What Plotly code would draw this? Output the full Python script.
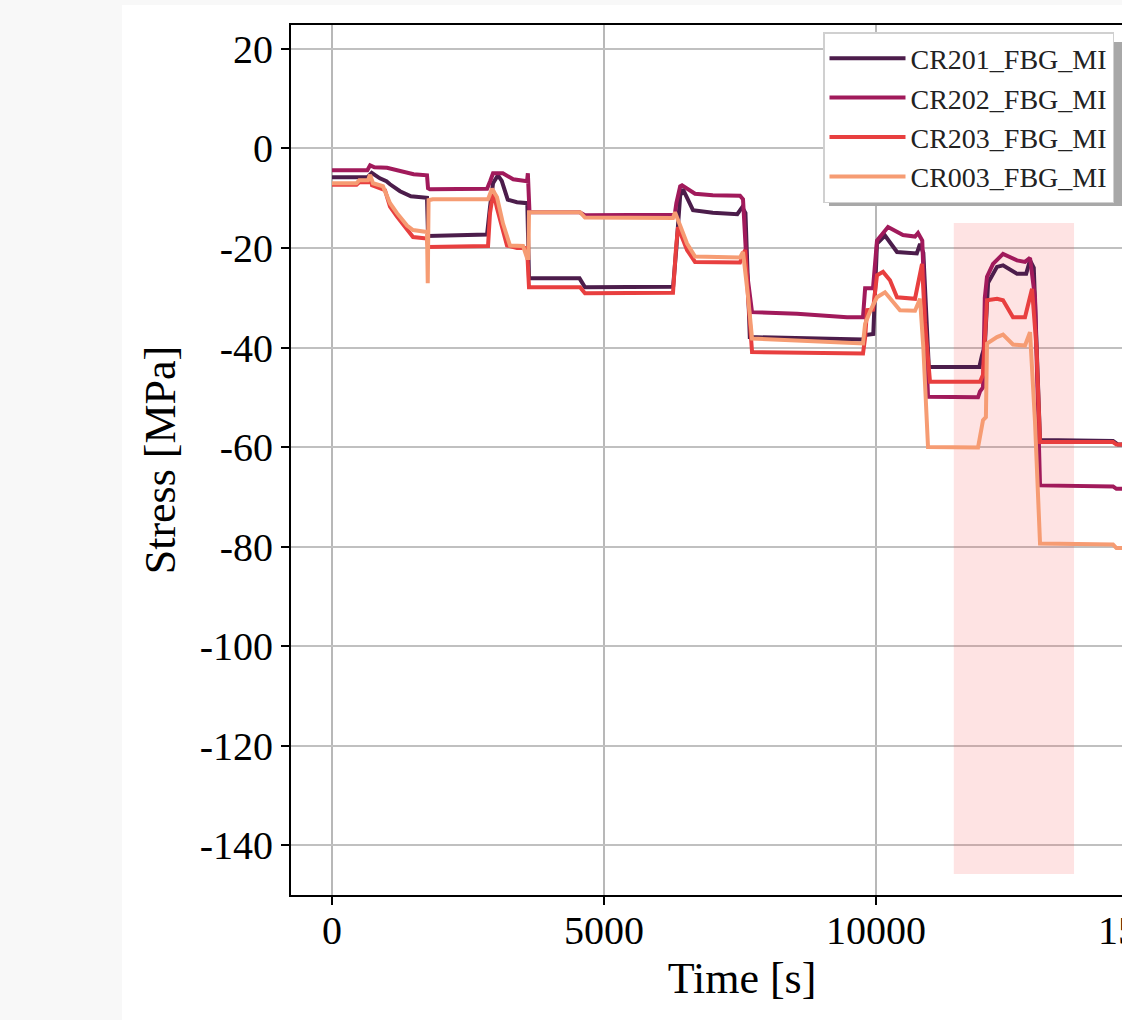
import plotly.graph_objects as go

# ---------------- data ----------------
series_names = ["CR201_FBG_MI", "CR202_FBG_MI", "CR203_FBG_MI", "CR003_FBG_MI"]
series_colors = ["#4c1d4b", "#a11a5b", "#e83f3f", "#f69c73"]

cr201_t = [0, 650, 730, 880, 1000, 1066, 1250, 1450, 1746, 1765, 2850, 2880, 2904, 2960, 3050, 3120, 3230, 3400,
           3590, 3621, 4550, 4650, 6270, 6330, 6400, 6450, 6636, 7000, 7450, 7540, 7600, 7680, 9450, 9760, 9800,
           9950, 10018, 10165, 10386, 10750, 10809, 10870, 10970, 11900, 11950, 12000, 12060, 12224, 12335, 12592,
           12760, 12831, 12900, 13015, 14357, 14450, 15080]
cr201_v = [-5.8, -5.8, -4.9, -6.0, -6.6, -7.2, -8.6, -9.6, -9.9, -17.6, -17.3, -15.0, -11.8, -7.0, -5.4, -6.5, -10.3,
           -10.8, -11.0, -26.1, -26.1, -27.9, -27.8, -20.0, -9.5, -8.2, -12.4, -12.9, -13.2, -11.8, -13.0, -37.9,
           -38.3, -38.4, -37.5, -37.3, -19.1, -17.5, -20.8, -21.1, -19.2, -21.0, -43.9, -43.9, -41.5, -39.7, -27.0,
           -23.8, -23.5, -25.2, -25.2, -22.5, -24.0, -58.6, -58.8, -59.5, -59.5]

cr202_t = [0, 650, 700, 780, 1011, 1250, 1500, 1746, 1765, 1800, 2850, 2910, 2960, 3140, 3330, 3585, 3600, 3630,
           4550, 4650, 6300, 6330, 6400, 6434, 6673, 7000, 7500, 7555, 7629, 7721, 8548, 9467, 9761, 9800, 9945,
           10018, 10221, 10496, 10717, 10772, 10850, 10956, 11875, 11912, 11967, 12000, 12040, 12151, 12335, 12592,
           12739, 12831, 12923, 13015, 14357, 14420, 15080]
cr202_v = [-4.4, -4.4, -3.4, -3.8, -3.9, -4.6, -5.2, -5.4, -8.0, -8.2, -8.1, -6.5, -5.0, -5.0, -6.2, -6.6, -5.0,
           -12.8, -12.8, -13.4, -13.3, -11.0, -7.6, -7.4, -9.1, -9.4, -9.5, -10.2, -25.0, -32.9, -33.2, -33.9, -33.9,
           -28.1, -28.1, -18.5, -15.8, -17.4, -17.7, -17.0, -18.5, -49.9, -50.0, -48.8, -48.0, -30.0, -25.8, -23.2,
           -21.2, -22.5, -22.8, -22.0, -30.0, -67.7, -67.9, -68.4, -68.4]

cr203_t = [0, 450, 500, 662, 699, 735, 974, 1066, 1195, 1379, 1489, 1746, 1765, 2868, 2904, 2941, 2960, 3033, 3217,
           3401, 3585, 3621, 4559, 4650, 6268, 6324, 6360, 6526, 6673, 7500, 7592, 7650, 7721, 9761, 9800, 9835,
           9945, 10018, 10129, 10257, 10386, 10717, 10846, 10900, 10993, 11912, 11967, 12040, 12224, 12335, 12518,
           12739, 12868, 12950, 13015, 14357, 14420, 15080]
cr203_v = [-7.3, -7.3, -6.8, -6.8, -5.4, -7.4, -8.4, -11.7, -13.7, -16.4, -17.8, -18.1, -19.8, -19.6, -13.0, -10.4,
           -8.4, -12.0, -19.5, -20.0, -20.0, -27.9, -27.9, -29.1, -29.0, -20.0, -15.8, -20.4, -22.8, -22.9, -20.4,
           -30.0, -40.9, -41.2, -38.0, -32.5, -32.4, -25.5, -24.8, -26.5, -29.9, -30.2, -23.2, -35.0, -46.9, -46.9,
           -45.5, -30.5, -30.2, -30.5, -33.9, -33.9, -28.2, -40.0, -59.0, -59.0, -59.5, -59.5]

cr003_t = [0, 450, 500, 662, 699, 754, 936, 1066, 1195, 1379, 1489, 1746, 1760, 1775, 1850, 2868, 2941, 3033, 3143,
           3272, 3511, 3585, 3610, 3621, 4559, 4650, 6268, 6305, 6526, 6673, 7500, 7555, 7650, 7721, 9761, 9800,
           9900, 10018, 10165, 10441, 10717, 10809, 10870, 10956, 11875, 11967, 12020, 12040, 12224, 12335, 12518,
           12739, 12831, 12923, 13015, 14357, 14420, 15080]
cr003_v = [-7.0, -7.0, -6.4, -6.4, -5.3, -7.0, -7.6, -11.0, -13.0, -15.5, -16.4, -16.8, -27.1, -10.4, -10.2, -10.2,
           -8.1, -9.8, -15.1, -19.5, -19.6, -22.0, -22.0, -12.8, -12.8, -13.9, -14.0, -12.8, -19.1, -21.7, -21.9,
           -20.8, -30.0, -38.2, -39.2, -35.2, -32.5, -29.9, -28.9, -32.5, -32.6, -30.2, -40.0, -60.0, -60.1, -54.6,
           -54.0, -39.2, -37.9, -37.4, -39.4, -39.6, -36.9, -55.0, -79.4, -79.6, -80.3, -80.3]

series_t = [cr201_t, cr202_t, cr203_t, cr003_t]
series_v = [cr201_v, cr202_v, cr203_v, cr003_v]

highlight_t = [11430, 13640]
highlight_v = [-145.8, -15.0]

x_tickvals = [0, 5000, 10000, 15000]
x_ticktext = ["0", "5000", "10000", "15000"]
y_tickvals = [20, 0, -20, -40, -60, -80, -100, -120, -140]
y_ticktext = ["20", "0", "-20", "-40", "-60", "-80", "-100", "-120", "-140"]
x_range = [-754, 15827]
y_range = [-150.0, 24.8]

# ---------------- layout geometry (pixels) ----------------
FIG_W, FIG_H = 1240, 1020
M_L, M_T, M_B = 291, 25, 125
PLOT_R = 1193
M_R = FIG_W - PLOT_R
PW = PLOT_R - M_L
PH = FIG_H - M_T - M_B


def px_x(p):
    return (p - M_L) / PW


def px_y(p):
    return (FIG_H - M_B - p) / PH


FONT = "Liberation Serif"

fig = go.Figure()
for name, col, t, v in zip(series_names, series_colors, series_t, series_v):
    fig.add_trace(go.Scatter(x=t, y=v, mode="lines", name=name,
                             line=dict(color=col, width=4)))

shapes = [
    # page background strips
    dict(type="rect", xref="paper", yref="paper", x0=px_x(0), x1=px_x(122), y0=px_y(FIG_H), y1=px_y(0),
         fillcolor="#f8f8f8", line=dict(width=0), layer="below"),
    dict(type="rect", xref="paper", yref="paper", x0=px_x(0), x1=px_x(FIG_W), y0=px_y(5), y1=px_y(0),
         fillcolor="#f8f8f8", line=dict(width=0), layer="below"),
    # highlighted window
    dict(type="rect", xref="x", yref="y", x0=highlight_t[0], x1=highlight_t[1], y0=highlight_v[0], y1=highlight_v[1],
         fillcolor="rgba(245,60,60,0.14)", line=dict(width=0), layer="between"),
    # legend shadow
    dict(type="rect", xref="paper", yref="paper", x0=px_x(829), x1=px_x(FIG_W), y0=px_y(206), y1=px_y(42),
         fillcolor="#a8a8a8", line=dict(width=0), layer="above"),
]

axis_common = dict(showline=True, linecolor="black", linewidth=2, mirror=True,
                   ticks="outside", ticklen=8, tickwidth=2, tickcolor="black",
                   tickfont=dict(family=FONT, size=40, color="black"),
                   zeroline=False)

fig.update_layout(
    width=FIG_W, height=FIG_H,
    margin=dict(l=M_L, r=M_R, t=M_T, b=M_B, pad=0),
    paper_bgcolor="white", plot_bgcolor="white",
    showlegend=True,
    legend=dict(x=px_x(823), y=px_y(32), xanchor="left", yanchor="top",
                bgcolor="white", bordercolor="#d0d0d0", borderwidth=1.5,
                itemwidth=76,
                font=dict(family=FONT, size=28, color="#222222")),
    shapes=shapes,
    xaxis=dict(range=x_range, tickvals=x_tickvals, ticktext=x_ticktext,
               showgrid=True, gridcolor="#b8b8b8", gridwidth=1.5,
               ticklabelstandoff=-9,
               title=dict(text="Time [s]", font=dict(family=FONT, size=44, color="black"), standoff=10),
               **axis_common),
    yaxis=dict(range=y_range, tickvals=y_tickvals, ticktext=y_ticktext,
               showgrid=True, gridcolor="#c0c0c0", gridwidth=2,
               title=dict(text="Stress [MPa]", font=dict(family=FONT, size=44, color="black"), standoff=10),
               **axis_common),
)

fig.write_html("out.html",
               post_script="document.documentElement.style.overflow='hidden';"
                           "document.body.style.overflow='hidden';document.body.style.margin='0';")
